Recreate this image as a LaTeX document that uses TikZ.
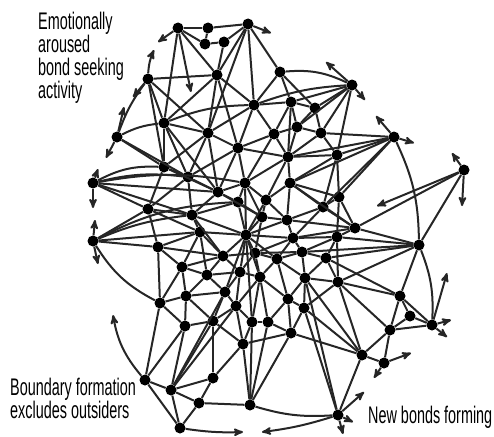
\documentclass[tikz,border=0pt]{standalone}
\usepackage{fontspec}
\newfontfamily\narrowfont{Liberation Sans}[FakeStretch=0.6]
\usetikzlibrary{arrows}

\begin{document}
\begin{tikzpicture}[
      x=1pt, y=-1pt,
      actor/.style={
         circle,
         fill=black,
         inner sep=0pt,
         minimum size=11pt
      },
      bond/.style={line width=2pt, draw=black!85},
      seek/.style={bond, ->},
      caption/.style={
         anchor=north west,
         inner sep=0pt,
         align=left,
         font=\narrowfont\fontsize{24}{23}\selectfont
      },
      >=stealth'
    ]
    \useasboundingbox (0,0) rectangle (494,436);
    % members
    \node (n1) [actor] at (178,28) {};
    \node (n2) [actor] at (208,28) {};
    \node (n3) [actor] at (248,24) {};
    \node (n4) [actor] at (205,44) {};
    \node (n5) [actor] at (224,42) {};
    \node (n6) [actor] at (148,79) {};
    \node (n7) [actor] at (217,75) {};
    \node (n8) [actor] at (280,72) {};
    \node (n9) [actor] at (254,105) {};
    \node (n10) [actor] at (291,102) {};
    \node (n11) [actor] at (315,108) {};
    \node (n12) [actor] at (164,123) {};
    \node (n13) [actor] at (208,133) {};
    \node (n14) [actor] at (274,134) {};
    \node (n15) [actor] at (297,127) {};
    \node (n16) [actor] at (321,133) {};
    \node (n17) [actor] at (352,85) {};
    \node (n18) [actor] at (394,137) {};
    \node (n19) [actor] at (464,170) {};
    \node (n20) [actor] at (117,137) {};
    \node (n21) [actor] at (238,148) {};
    \node (n22) [actor] at (288,157) {};
    \node (n23) [actor] at (337,155) {};
    \node (n24) [actor] at (164,167) {};
    \node (n25) [actor] at (188,177) {};
    \node (n26) [actor] at (245,183) {};
    \node (n27) [actor] at (290,183) {};
    \node (n28) [actor] at (93,183) {};
    \node (n29) [actor] at (218,192) {};
    \node (n30) [actor] at (238,202) {};
    \node (n31) [actor] at (266,200) {};
    \node (n32) [actor] at (339,197) {};
    \node (n33) [actor] at (323,207) {};
    \node (n34) [actor] at (148,209) {};
    \node (n35) [actor] at (192,215) {};
    \node (n36) [actor] at (262,217) {};
    \node (n37) [actor] at (287,220) {};
    \node (n38) [actor] at (355,228) {};
    \node (n39) [actor] at (419,245) {};
    \node (n40) [actor] at (200,232) {};
    \node (n41) [actor] at (246,235) {};
    \node (n42) [actor] at (293,238) {};
    \node (n43) [actor] at (337,237) {};
    \node (n44) [actor] at (93,241) {};
    \node (n45) [actor] at (158,247) {};
    \node (n46) [actor] at (223,256) {};
    \node (n47) [actor] at (255,253) {};
    \node (n48) [actor] at (277,259) {};
    \node (n49) [actor] at (302,252) {};
    \node (n50) [actor] at (326,258) {};
    \node (n51) [actor] at (182,267) {};
    \node (n52) [actor] at (207,275) {};
    \node (n53) [actor] at (240,272) {};
    \node (n54) [actor] at (260,277) {};
    \node (n55) [actor] at (305,278) {};
    \node (n56) [actor] at (338,282) {};
    \node (n57) [actor] at (400,296) {};
    \node (n58) [actor] at (225,292) {};
    \node (n59) [actor] at (288,299) {};
    \node (n60) [actor] at (160,303) {};
    \node (n61) [actor] at (186,296) {};
    \node (n62) [actor] at (236,306) {};
    \node (n63) [actor] at (304,308) {};
    \node (n64) [actor] at (410,316) {};
    \node (n65) [actor] at (432,325) {};
    \node (n66) [actor] at (185,326) {};
    \node (n67) [actor] at (213,321) {};
    \node (n68) [actor] at (252,322) {};
    \node (n69) [actor] at (268,322) {};
    \node (n70) [actor] at (291,333) {};
    \node (n71) [actor] at (390,330) {};
    \node (n72) [actor] at (243,344) {};
    \node (n73) [actor] at (362,355) {};
    \node (n74) [actor] at (384,363) {};
    \node (n75) [actor] at (213,378) {};
    \node (n76) [actor] at (145,380) {};
    \node (n77) [actor] at (171,390) {};
    \node (n78) [actor] at (199,403) {};
    \node (n79) [actor] at (250,405) {};
    \node (n80) [actor] at (338,415) {};
    \node (n81) [actor] at (180,428) {};
    % loose ends of the seeking arrows
    \coordinate (s1) at (158,42);
    \coordinate (s2) at (191,92);
    \coordinate (s3) at (271,33);
    \coordinate (s4) at (154,50);
    \coordinate (s5) at (133,97);
    \coordinate (s6) at (124,107);
    \coordinate (s7) at (106,158);
    \coordinate (s8) at (98,169);
    \coordinate (s9) at (93,208);
    \coordinate (s10) at (95,220);
    \coordinate (s11) at (98,264);
    \coordinate (s12) at (326,62);
    \coordinate (s13) at (365,100);
    \coordinate (s14) at (376,116);
    \coordinate (s15) at (414,143);
    \coordinate (s16) at (452,153);
    \coordinate (s17) at (462,206);
    \coordinate (s18) at (377,206);
    \coordinate (s19) at (447,273);
    \coordinate (s20) at (451,320);
    \coordinate (s21) at (447,337);
    \coordinate (s22) at (411,353);
    \coordinate (s23) at (374,378);
    \coordinate (s24) at (364,392);
    \coordinate (s25) at (353,422);
    \coordinate (s26) at (343,434);
    \coordinate (s27) at (243,432);
    \coordinate (s28) at (262,432);
    \coordinate (s29) at (113,315);
    % bonds
    \draw[bond] (n1) edge (n2) edge (n4) edge (n7) edge (n12);
    \draw[bond] (n2) edge (n3) edge (n4);
    \draw[bond] (n3) edge (n5) edge (n7) edge (n9) edge (n8) edge (n13);
    \draw[bond] (n4) edge (n5) (n5) edge (n7);
    \draw[bond] (n6) edge (n7) edge (n12) edge (n13) edge[bend right=8] (n20) edge (n24);
    \draw[bond] (n7) edge (n9) edge (n13) edge (n21) edge (n12);
    \draw[bond] (n8) edge (n9) edge (n10) edge (n11) edge[bend left=15] (n17);
    \draw[bond] (n9) edge (n10) edge (n13) edge (n14) edge[bend right=10] (n12) edge (n21);
    \draw[bond] (n10) edge (n11) edge (n14) edge (n15) edge (n22);
    \draw[bond] (n11) edge (n15) edge (n16) edge (n17);
    \draw[bond] (n12) edge (n13) edge[bend right=10] (n20) edge (n24) edge (n25) edge (n29);
    \draw[bond] (n13) edge (n21) edge (n25) edge (n29) edge (n24);
    \draw[bond] (n14) edge (n15) edge (n21) edge (n22) edge (n26);
    \draw[bond] (n15) edge (n16) edge (n22) edge (n17);
    \draw[bond] (n16) edge (n17) edge (n23) edge (n22) edge (n18);
    \draw[bond] (n17) edge[bend right=8] (n9) edge (n10) edge (n23);
    \draw[bond] (n18) edge (n22) edge (n23) edge (n32) edge (n33) edge (n27) edge[bend left=12] (n39);
    \draw[bond] (n19) edge (n38) edge (n39);
    \draw[bond] (n20) edge (n24) edge (n25);
    \draw[bond] (n21) edge (n25) edge (n26) edge (n29) edge (n22);
    \draw[bond] (n22) edge (n23) edge (n26) edge (n27) edge (n31);
    \draw[bond] (n23) edge (n27) edge (n32) edge (n33);
    \draw[bond] (n24) edge (n25) edge[bend right=15] (n28) edge (n34) edge (n29);
    \draw[bond] (n25) edge (n29) edge (n34) edge (n35) edge[bend right=10] (n28);
    \draw[bond] (n26) edge (n29) edge (n30) edge (n31) edge (n41) edge (n36);
    \draw[bond] (n27) edge (n31) edge (n33) edge (n37) edge (n32) edge (n38);
    \draw[bond] (n28) edge (n29) edge (n34) edge (n35) edge[bend left=10] (n26);
    \draw[bond] (n29) edge (n30) edge (n35) edge (n36);
    \draw[bond] (n30) edge (n36) edge (n41) edge (n35);
    \draw[bond] (n31) edge (n36) edge (n37) edge (n41);
    \draw[bond] (n32) edge (n33) edge (n38) edge (n43);
    \draw[bond] (n33) edge (n37) edge (n38) edge (n42);
    \draw[bond] (n34) edge (n35) edge (n40) edge (n44) edge (n45);
    \draw[bond] (n35) edge (n40) edge (n41) edge (n46);
    \draw[bond] (n36) edge (n37) edge (n41) edge (n47);
    \draw[bond] (n37) edge (n42) edge (n38) edge (n41);
    \draw[bond] (n38) edge (n39) edge (n43) edge (n42);
    \draw[bond] (n39) edge (n43) edge (n49) edge (n50) edge (n56) edge (n57);
    \draw[bond] (n40) edge (n45) edge (n46) edge (n41) edge (n51) edge (n52);
    \draw[bond] (n41) edge (n46) edge (n47) edge (n42) edge (n53) edge (n54) edge (n48) edge (n58) edge (n68);
    \draw[bond] (n42) edge (n43) edge (n49) edge (n48) edge (n47);
    \draw[bond] (n43) edge (n49) edge (n50) edge (n56);
    \draw[bond] (n44) edge (n45) edge[bend left=8] (n35) edge[bend left=12] (n30) edge[bend right=15] (n60) edge (n40);
    \draw[bond] (n45) edge (n46) edge (n51) edge (n60);
    \draw[bond] (n46) edge (n47) edge (n52) edge (n53) edge (n51);
    \draw[bond] (n47) edge (n48) edge (n53) edge (n54) edge (n49);
    \draw[bond] (n48) edge (n49) edge (n54) edge (n55) edge (n59);
    \draw[bond] (n49) edge (n50) edge (n55);
    \draw[bond] (n50) edge (n56) edge (n55) edge (n57);
    \draw[bond] (n51) edge (n52) edge (n61) edge (n60);
    \draw[bond] (n52) edge (n53) edge (n58) edge (n61);
    \draw[bond] (n53) edge (n54) edge (n58) edge (n62);
    \draw[bond] (n54) edge (n59) edge (n62) edge (n68) edge (n69);
    \draw[bond] (n55) edge (n56) edge (n59) edge (n63) edge (n80) edge (n73);
    \draw[bond] (n56) edge (n57) edge (n63) edge (n73) edge (n71);
    \draw[bond] (n57) edge (n64) edge (n71) edge (n65);
    \draw[bond] (n58) edge (n61) edge (n62) edge (n67);
    \draw[bond] (n59) edge (n63) edge (n69) edge (n70);
    \draw[bond] (n60) edge (n61) edge (n66) edge (n76);
    \draw[bond] (n61) edge (n66) edge (n67);
    \draw[bond] (n62) edge (n67) edge (n68) edge (n72);
    \draw[bond] (n63) edge (n70) edge (n73) edge (n80);
    \draw[bond] (n64) edge (n65) edge (n71);
    \draw[bond] (n65) edge (n71) edge[bend right=12] (n39);
    \draw[bond] (n66) edge (n67) edge (n76) edge (n77);
    \draw[bond] (n67) edge (n72) edge (n75) edge (n77);
    \draw[bond] (n68) edge (n69) edge (n72) edge (n79);
    \draw[bond] (n69) edge (n70) edge (n79);
    \draw[bond] (n70) edge (n72) edge (n73) edge (n79);
    \draw[bond] (n71) edge (n73) edge (n74);
    \draw[bond] (n72) edge (n75) edge (n79);
    \draw[bond] (n73) edge (n74) edge (n80);
    \draw[bond] (n75) edge (n77) edge (n78);
    \draw[bond] (n76) edge (n77) edge (n81);
    \draw[bond] (n77) edge (n78) edge (n81) edge (n58) edge (n62);
    \draw[bond] (n78) edge (n79) edge (n81);
    \draw[bond] (n79) edge[bend right=10] (n80);
    % seeking arrows
    \draw[seek] (n1) -- (s1);
    \draw[seek] (n1) -- (s2);
    \draw[seek] (n3) -- (s3);
    \draw[seek] (n6) to[bend left=10] (s4);
    \draw[seek] (n6) -- (s5);
    \draw[seek] (n20) -- (s6);
    \draw[seek] (n20) -- (s7);
    \draw[seek] (n28) -- (s8);
    \draw[seek] (n28) -- (s9);
    \draw[seek] (n44) -- (s10);
    \draw[seek] (n44) -- (s11);
    \draw[seek] (n17) -- (s12);
    \draw[seek] (n17) -- (s13);
    \draw[seek] (n18) -- (s14);
    \draw[seek] (n18) -- (s15);
    \draw[seek] (n19) -- (s16);
    \draw[seek] (n19) -- (s17);
    \draw[seek] (n19) -- (s18);
    \draw[seek] (n65) -- (s19);
    \draw[seek] (n65) -- (s20);
    \draw[seek] (n65) -- (s21);
    \draw[seek] (n74) -- (s22);
    \draw[seek] (n74) -- (s23);
    \draw[seek] (n80) -- (s24);
    \draw[seek] (n80) -- (s25);
    \draw[seek] (n80) -- (s26);
    \draw[seek] (n81) to[bend right=5] (s27);
    \draw[seek] (n80) to[bend left=5] (s28);
    \draw[seek] (n76) to[bend left=15] (s29);
    % captions
    \node (seeking) [caption] at (38,12) {Emotionally\\aroused\\bond seeking\\activity};
    \node (boundary) [caption] at (10,378) {Boundary formation\\excludes outsiders};
    \node (newbonds) [caption] at (368,406) {New bonds forming};
\end{tikzpicture}
\end{document}
